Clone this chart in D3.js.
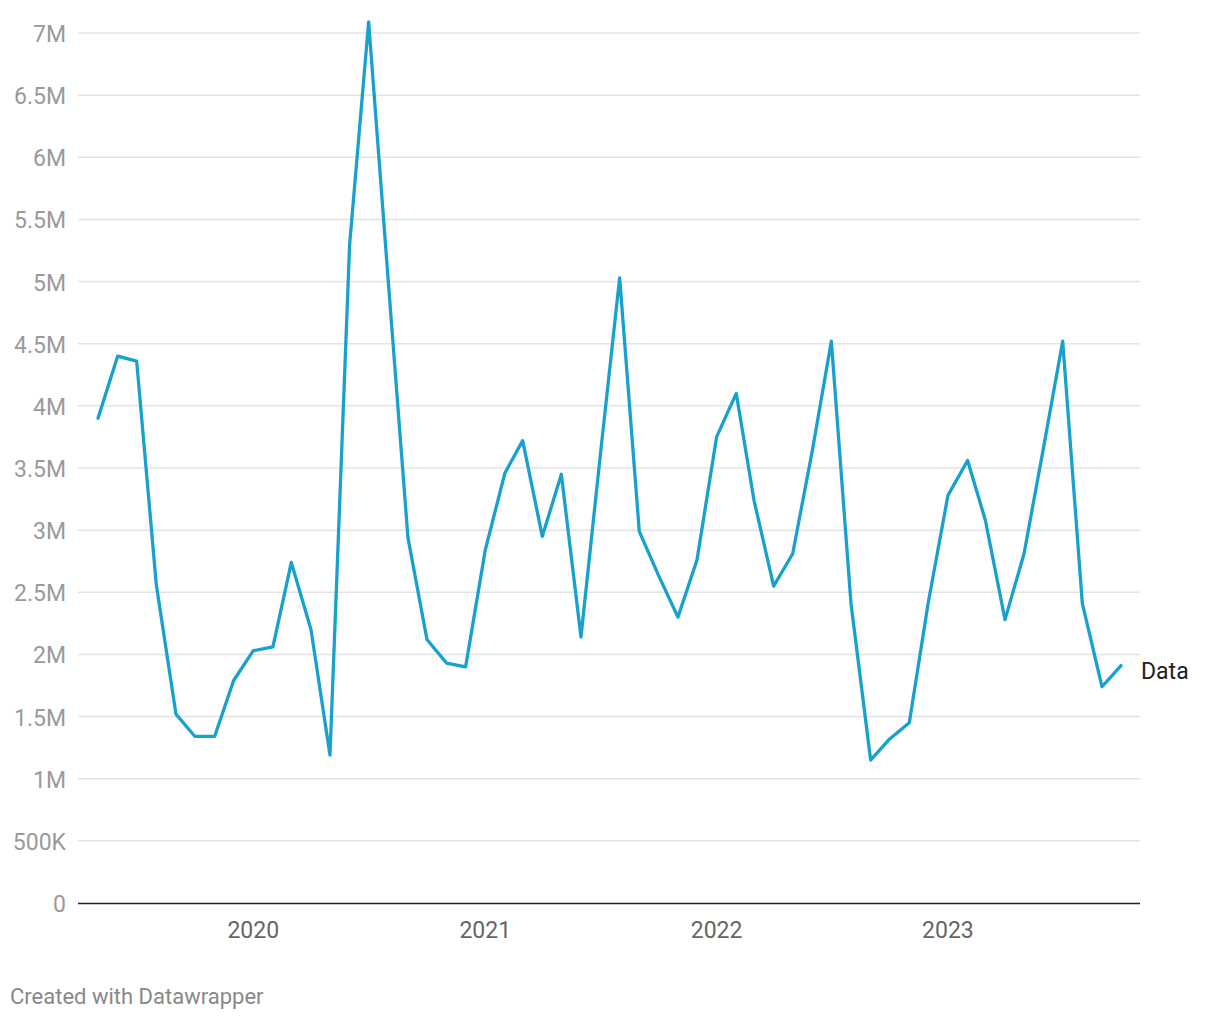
<!DOCTYPE html>
<html><head><meta charset="utf-8">
<script src="https://cdn.jsdelivr.net/npm/d3@7"></script>
<style>
body{margin:0;background:#fff;font-family:Roboto,"Noto Sans",sans-serif;}
</style></head>
<body><svg id="c" width="1220" height="1020"></svg>
<script>
const startMonth = "2019-05";
const values = [3.90,4.40,4.36,2.56,1.52,1.34,1.34,1.79,2.03,2.06,2.74,2.20,1.19,5.30,7.09,5.00,2.94,2.12,1.93,1.90,
  2.84,3.46,3.72,2.95,3.45,2.14,3.58,5.03,2.99,2.64,2.30,2.76,3.75,4.10,3.24,2.55,2.81,3.64,4.52,2.41,
  1.15,1.32,1.45,2.42,3.28,3.56,3.08,2.28,2.81,3.67,4.52,2.41,1.74,1.91].map(v=>v*1e6);
const yTicks = [0,500000,1000000,1500000,2000000,2500000,3000000,3500000,4000000,4500000,5000000,5500000,6000000,6500000,7000000];
const xTickYears = [2020,2021,2022,2023];
const seriesName = "Data";

const p = d3.timeParse("%Y-%m");
const s0 = p(startMonth);
const data = values.map((v,i)=>({d:d3.timeMonth.offset(s0,i), v}));

const svg = d3.select("#c");
const x = d3.scaleTime().domain([data[0].d, data[data.length-1].d]).range([98,1121]);
const y = d3.scaleLinear().domain([0,7e6]).range([903,33]);

const fmt = v => v===0 ? "0" : v>=1e6 ? (v/1e6)+"M" : (v/1e3)+"K";

// grid
svg.append("g").selectAll("line").data(yTicks.filter(t=>t>0)).join("line")
  .attr("x1",78).attr("x2",1140).attr("y1",d=>y(d)).attr("y2",d=>y(d))
  .attr("stroke","#e3e3e3").attr("stroke-width",1.5);

// y labels
svg.append("g").selectAll("text").data(yTicks).join("text")
  .attr("x",66).attr("y",d=>y(d)+1).attr("dy","0.35em").attr("text-anchor","end")
  .attr("fill","#9a9a9a").attr("font-size",23).text(fmt);

// x axis baseline
svg.append("line").attr("x1",78).attr("x2",1140).attr("y1",903.5).attr("y2",903.5)
  .attr("stroke","#222").attr("stroke-width",1.5);

// x labels
svg.append("g").selectAll("text").data(xTickYears).join("text")
  .attr("x",d=>x(new Date(d,0,1))).attr("y",938).attr("text-anchor","middle")
  .attr("fill","#666").attr("font-size",23).text(d=>d);

// line
const line = d3.line().x(d=>x(d.d)).y(d=>y(d.v));
svg.append("path").datum(data).attr("d",line).attr("fill","none")
  .attr("stroke","#18a1cd").attr("stroke-width",3.3).attr("stroke-linejoin","round").attr("stroke-linecap","round");

// series label
const last = data[data.length-1];
svg.append("text").attr("x",x(last.d)+20).attr("y",y(last.v)+5).attr("dy","0.35em")
  .attr("fill","#222").attr("font-size",23).text(seriesName);

// footer
svg.append("text").attr("x",10).attr("y",1004).attr("fill","#888").attr("font-size",22).text("Created with Datawrapper");
</script></body></html>
